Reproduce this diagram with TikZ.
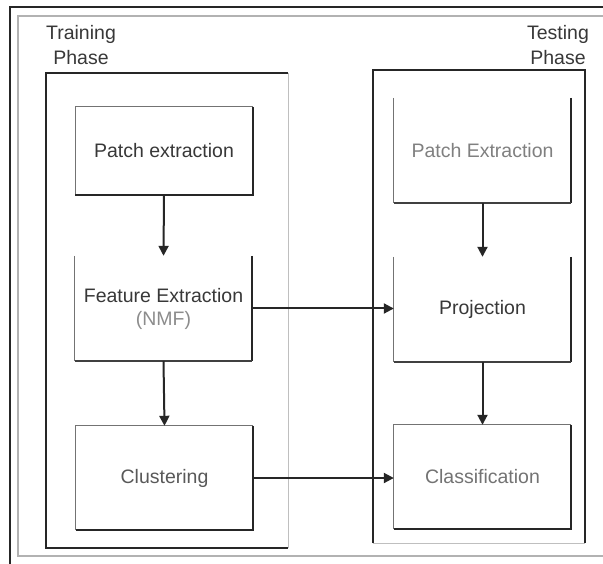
\documentclass[tikz,border=0pt]{standalone}
\usepackage{fontspec}
\setmainfont{Liberation Sans}
\usetikzlibrary{arrows.meta}
\begin{document}
\begin{tikzpicture}[x=1pt,y=-1pt,
  lbl/.style={font=\fontsize{19.5}{25}\selectfont, text=black!78, inner sep=0pt, align=center},
  blk/.style={draw=none, minimum width=177pt, inner sep=0pt},
  thinedge/.style={draw=black!55, line width=1pt},
  darkedge/.style={draw=black!85, line width=2pt},
  heavy/.style={draw=black!85, line width=2.4pt},
  faint/.style={draw=black!25, line width=1pt},
  frame/.style={draw=black!30, line width=2.2pt},
  arr/.style={draw=black!85, line width=2pt, -{Triangle[length=10pt,width=10pt]}}
]
\useasboundingbox[fill=white] (0,0) rectangle (603,564);
% outer frame
\draw[black!85, line width=1.2pt] (603,7) -- (10,7) -- (10,564);
\draw[frame] (603,16) -- (18,16) -- (18,556) -- (603,556);
% phase titles
\node[lbl] (trt) at (81,45.5) {Training\\Phase};
\node[lbl] (tst) at (558,45.5) {Testing\\Phase};
% phase boxes
\draw[faint] (288,73) -- (288,548);
\draw[heavy] (288,73) -- (46,73) -- (46,548) -- (288,548);
\draw[faint] (373,543) -- (585,543);
\draw[heavy] (373,543) -- (373,70) -- (585,70) -- (585,543);
% left column
\node[blk, minimum height=88pt] (pe) at (164,151) {};
\node[blk, minimum height=105pt] (fe) at (163.5,308.5) {};
\node[blk, minimum height=104pt] (cl) at (164.5,478) {};
% right column
\node[blk, minimum height=105pt] (rpe) at (482.5,150.5) {};
\node[blk, minimum height=105pt] (pr) at (482.5,309.5) {};
\node[blk, minimum height=104pt] (cs) at (482.5,477) {};
% box edges: full boxes
\foreach \n in {pe,cl,cs}{
  \draw[thinedge] (\n.south west) -- (\n.north west) -- (\n.north east);
  \draw[darkedge] (\n.north east) -- (\n.south east) -- (\n.south west);
}
% open-top boxes
\foreach \n in {fe,rpe,pr}{
  \draw[thinedge] (\n.north west) -- (\n.south west);
  \draw[darkedge] (\n.north east) -- (\n.south east);
  \draw[thinedge, draw=black!75, line width=1.4pt] (\n.south west) -- (\n.south east);
}
% texts
\node[lbl] (tpe) at (pe.center) {Patch extraction};
\node[lbl] (tfe) at (fe.center) {Feature Extraction\\[-2pt]\textcolor{black!45}{(NMF)}};
\node[lbl, text=black!65] (tcl) at (cl.center) {Clustering};
\node[lbl, text=black!50] (trpe) at (rpe.center) {Patch Extraction};
\node[lbl] (tpr) at (pr.center) {Projection};
\node[lbl, text=black!55] (tcs) at (cs.center) {Classification};
% arrows
\draw[arr] (pe.south) -- (fe.north);
\draw[arr] (fe.south) -- (cl.north);
\draw[arr] (rpe.south) -- (pr.north);
\draw[arr] (pr.south) -- (cs.north);
\draw[arr] (fe.east) -- (fe.east -| pr.west);
\draw[arr] (cl.east) -- (cl.east -| cs.west);
\end{tikzpicture}
\end{document}
